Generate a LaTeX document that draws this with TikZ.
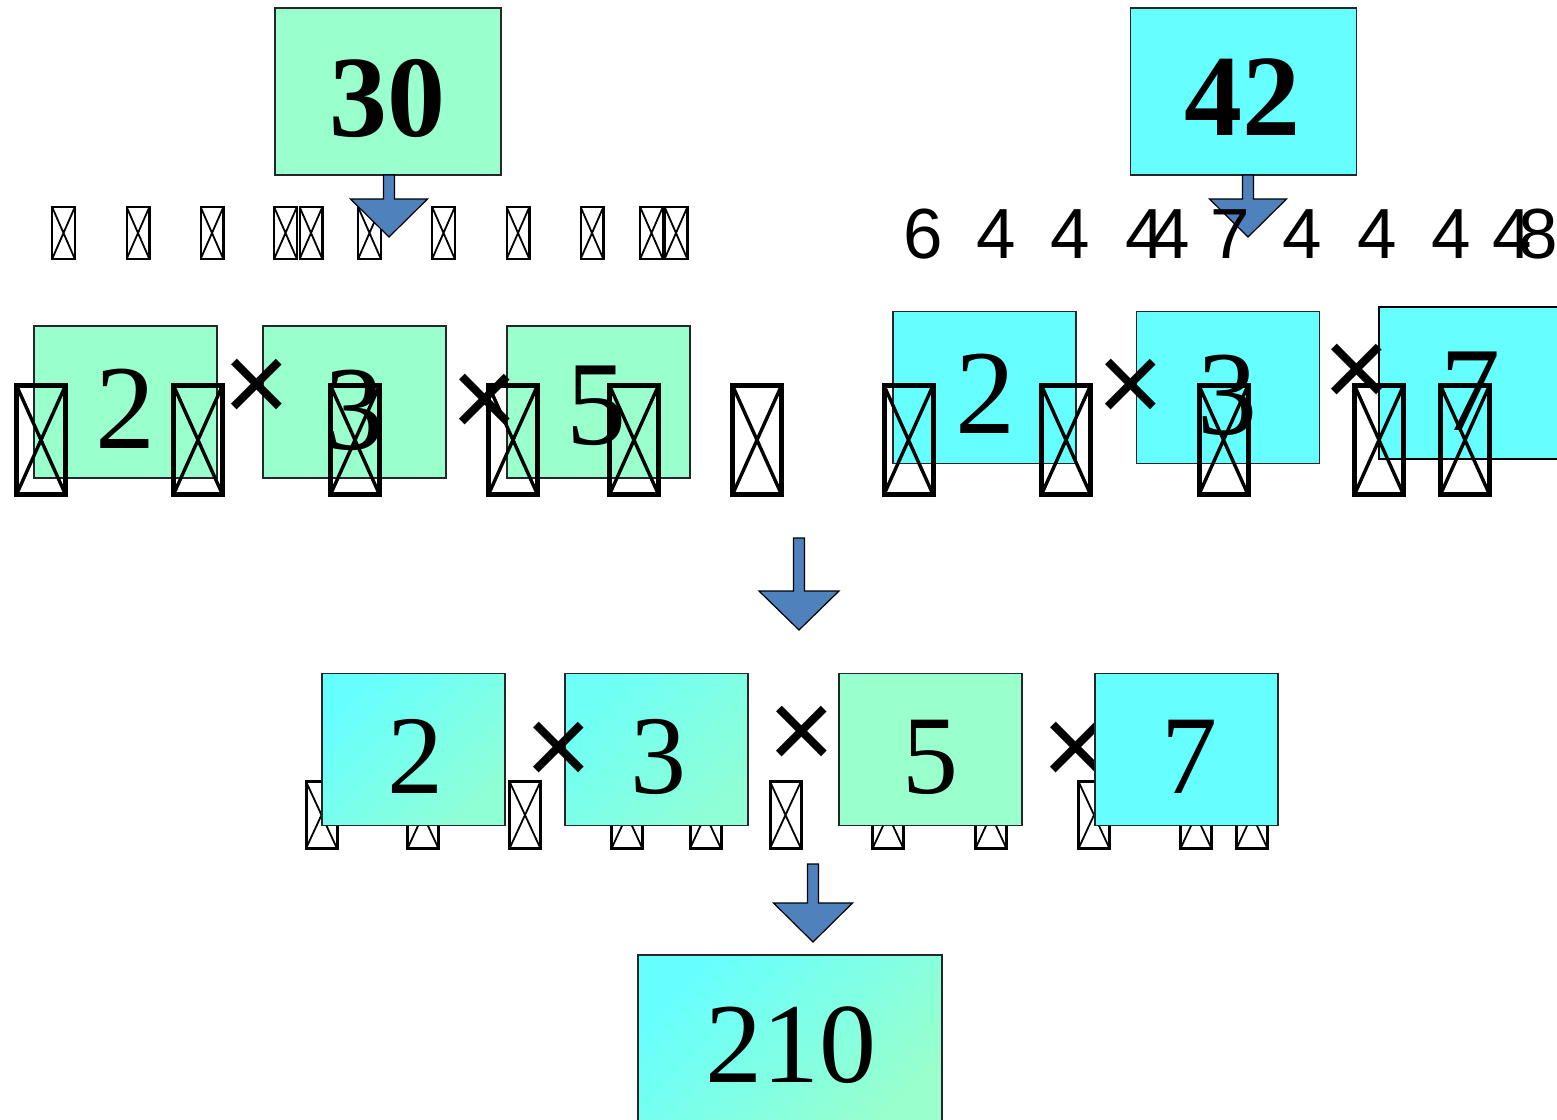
\documentclass[tikz,border=0pt]{standalone}
\usepackage{fontspec}
\usepackage{xcolor}
\usepackage{tikz}
\setmainfont{Liberation Serif}
\newfontfamily\arialfont{Liberation Sans}
\definecolor{mintbox}{HTML}{99FFCC}
\definecolor{aquabox}{HTML}{66FFFF}
\definecolor{arrowblue}{HTML}{4F81BD}

% down arrow: centre x, top, neck, tip, half width of head
\newcommand{\blockarrow}[5]{%
  \draw[blockarr] (#1-5.5,#2) -- (#1+5.5,#2) -- (#1+5.5,#3) -- (#1+#5,#3) -- (#1,#4) -- (#1-#5,#3) -- (#1-5.5,#3) -- cycle;}

\begin{document}
\begin{tikzpicture}[
    x=0.5pt, y=-0.5pt,
    box/.style={rectangle, draw=black!85, line width=0.7pt, inner sep=0pt, minimum width=91.5pt, minimum height=76pt},
    mint/.style={box, fill=mintbox},
    aqua/.style={box, fill=aquabox},
    bigbox/.style={minimum width=113pt, minimum height=83.5pt},
    num/.style={anchor=base, inner sep=0pt, font=\fontsize{60}{60}\selectfont},
    smallnum/.style={anchor=base, inner sep=0pt, font=\fontsize{56}{56}\selectfont},
    rownum/.style={anchor=base, inner sep=0pt, font=\arialfont\fontsize{35.5}{36}\selectfont},
    times/.style={inner sep=0pt, font=\arialfont\fontsize{57}{57}\selectfont},
    blockarr/.style={fill=arrowblue, draw=black, line width=0.6pt, line join=miter},
    tofuS/.style={draw, line width=1.2pt, inner sep=0pt, minimum width=11.3pt, minimum height=25.8pt,
        path picture={\draw[line width=0.9pt] (path picture bounding box.north west) -- (path picture bounding box.south east)
            (path picture bounding box.north east) -- (path picture bounding box.south west);}},
    tofuL/.style={draw, line width=2.5pt, inner sep=0pt, minimum width=24.5pt, minimum height=54.5pt,
        path picture={\draw[line width=1.7pt] (path picture bounding box.north west) -- (path picture bounding box.south east)
            (path picture bounding box.north east) -- (path picture bounding box.south west);}},
    tofuM/.style={draw, line width=1.5pt, inner sep=0pt, minimum width=15.5pt, minimum height=33.5pt,
        path picture={\draw[line width=0.9pt] (path picture bounding box.north west) -- (path picture bounding box.south east)
            (path picture bounding box.north east) -- (path picture bounding box.south west);}}
]
\useasboundingbox (0,0) rectangle (1557,1119);

% top boxes
\node[mint, bigbox] (b30) at (388,91.5) {};
\node[aqua, bigbox] (b42) at (1243.5,91.5) {};
\node[num, font=\fontsize{58}{60}\selectfont\bfseries] (n30) at (387,136) {30};
\node[num, font=\fontsize{58}{60}\selectfont\bfseries] (n42) at (1242.5,135) {42};

% first row of missing glyphs
\node[tofuS] (s1) at (63.5,233) {};
\node[tofuS] (s2) at (138,233) {};
\node[tofuS] (s3) at (212,233) {};
\node[tofuS] (s4) at (285.5,233) {};
\node[tofuS] (s5) at (311,233) {};
\node[tofuS] (s6) at (369.5,233) {};
\node[tofuS] (s7) at (443.5,233) {};
\node[tofuS] (s8) at (518,233) {};
\node[tofuS] (s9) at (592,233) {};
\node[tofuS] (s10) at (651.5,233) {};
\node[tofuS] (s11) at (676,233) {};

\blockarrow{389}{175}{199}{237}{38.5}
\blockarrow{1248}{175}{199}{237}{38.5}

\node[rownum] (r1) at (923.5,258) {6};
\node[rownum] (r2) at (996,258) {4};
\node[rownum] (r3) at (1070,258) {4};
\node[rownum] (r4) at (1145,258) {4};
\node[rownum] (r5) at (1170,258) {4};
\node[rownum] (r6) at (1230,258) {7};
\node[rownum] (r7) at (1302.5,258) {4};
\node[rownum] (r8) at (1377.5,258) {4};
\node[rownum] (r9) at (1451.5,258) {4};
\node[rownum] (r10) at (1512,258) {4};
\node[rownum] (r11) at (1538,258) {8};

% middle row, left
\node[mint] (ml2b) at (125.5,402) {};
\node[mint] (ml3b) at (354.5,402) {};
\node[mint] (ml5b) at (598.5,402) {};
\node[num] (ml2) at (125.5,448) {2};
\node[num] (ml3) at (354.5,449) {3};
\node[num] (ml5) at (596.5,444) {5};
\node[times] (mlx1) at (256.5,391) {×};
\node[times] (mlx2) at (484.5,406) {×};

% middle row, right
\node[aqua] (mr2b) at (984.5,387.5) {};
\node[aqua] (mr3b) at (1228,387.5) {};
\node[aqua, draw=black, line width=1pt] (mr7b) at (1470.5,383) {};
\node[num] (mr2) at (985,433) {2};
\node[num] (mr3) at (1227.5,434) {3};
\node[num] (mr7) at (1470,430) {7};
\node[times] (mrx1) at (1130.5,391) {×};
\node[times] (mrx2) at (1357,376) {×};

\node[tofuL] (m1) at (41,440) {};
\node[tofuL] (m2) at (198,440) {};
\node[tofuL] (m3) at (355,440) {};
\node[tofuL] (m4) at (513,440) {};
\node[tofuL] (m5) at (634,440) {};
\node[tofuL] (m6) at (757,440) {};
\node[tofuL] (m7) at (908.5,440) {};
\node[tofuL] (m8) at (1066,440) {};
\node[tofuL] (m9) at (1223.5,440) {};
\node[tofuL] (m10) at (1379,440) {};
\node[tofuL] (m11) at (1465,440) {};

\blockarrow{799}{538}{591}{630}{40}

% bottom row
\node[tofuM] (t1) at (321.5,815) {};
\node[tofuM] (t2) at (423,815) {};
\node[tofuM] (t3) at (525,815) {};
\node[tofuM] (t4) at (627,815) {};
\node[tofuM] (t5) at (705.5,815) {};
\node[tofuM] (t6) at (785.5,815) {};
\node[tofuM] (t7) at (888,815) {};
\node[tofuM] (t8) at (991,815) {};
\node[tofuM] (t9) at (1094,815) {};
\node[tofuM] (t10) at (1196,815) {};
\node[tofuM] (t11) at (1252,815) {};

\node[box, top color=aquabox, bottom color=mintbox!80!aquabox, shading angle=45] (bt2b) at (413.5,749.5) {};
\node[box, top color=aquabox!85!mintbox, bottom color=mintbox!80!aquabox, shading angle=45] (bt3b) at (656.5,749.5) {};
\node[times] (btx1) at (559,754) {×};
\node[times] (btx2) at (802,738) {×};
\node[mint] (bt5b) at (930.5,749.5) {};
\node[times] (btx3) at (1076,754) {×};
\node[aqua] (bt7b) at (1186.5,749.5) {};
\node[smallnum] (bt2) at (415.5,793) {2};
\node[smallnum] (bt3) at (658,793) {3};
\node[smallnum] (bt5) at (930,793) {5};
\node[smallnum] (bt7) at (1189,793) {7};

\blockarrow{813}{864}{903}{942}{39.5}

\node[box, minimum width=152pt, minimum height=88.5pt, top color=aquabox, bottom color=mintbox, shading angle=45] (b210) at (790,1043.5) {};
\node[num, font=\fontsize{57}{57}\selectfont] (n210) at (790.5,1082) {210};

\end{tikzpicture}
\end{document}
